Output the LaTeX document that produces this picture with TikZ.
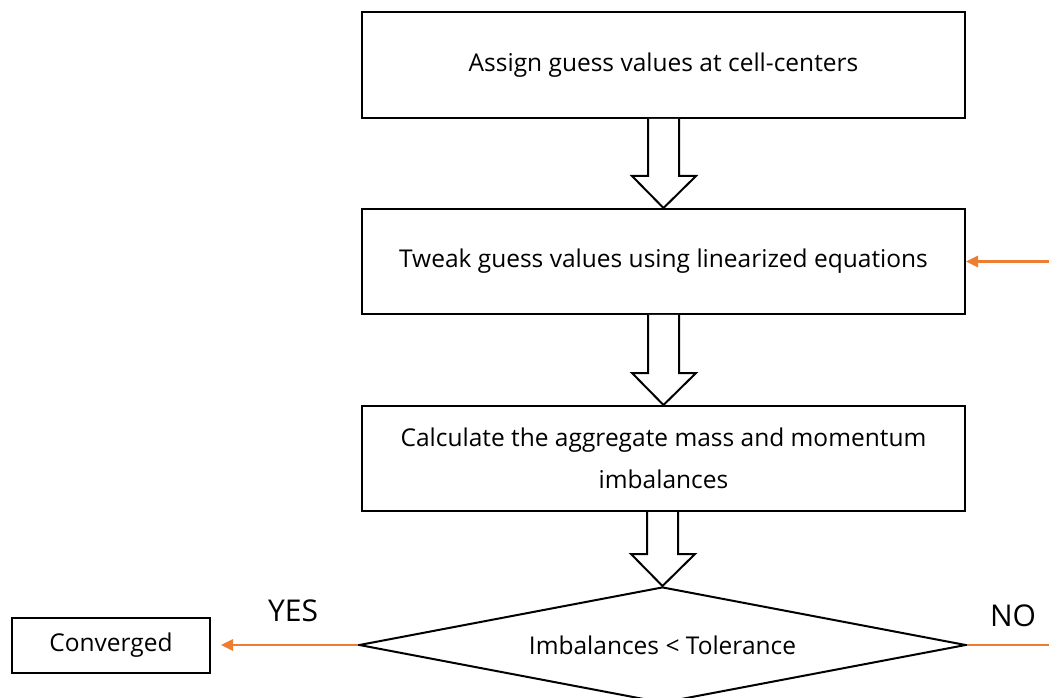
\documentclass[tikz,border=0pt]{standalone}
\usepackage{fontspec}
\setmainfont{Open Sans}
\usepackage{tikz}
\usetikzlibrary{arrows.meta,positioning,calc,shapes.geometric}
\definecolor{ink}{RGB}{0,0,0}
\definecolor{flow}{RGB}{237,125,49}

\tikzset{
  stepbox/.style={draw=ink,line width=2pt,minimum width=603pt,minimum height=106pt,inner sep=0pt,align=center},
  hollow/.style={draw=ink,line width=2pt,fill=white,line join=miter},
  flowline/.style={draw=flow,line width=2.6pt}
}

\begin{document}
\begin{tikzpicture}[x=1pt,y=1pt,font=\fontsize{24.5}{42}\selectfont,>={Triangle[length=12pt,width=11pt]}]
 \useasboundingbox (0,0) rectangle (1049,697);
 % main column
 \node[stepbox] (assign) at (663.5,632) {Assign guess values at cell-centers};
 \node[stepbox,minimum height=105pt] (tweak) at (663.5,435.5) {Tweak guess values using linearized equations};
 \node[stepbox,minimum height=105pt] (calc) at (663.5,238.5) {Calculate the aggregate mass and momentum\\imbalances};
 \node[diamond,aspect=5.2,draw=ink,line width=2pt,minimum width=607pt,minimum height=116pt,inner sep=0pt] (check) at (662.5,52) {Imbalances < Tolerance};
 \node[draw=ink,line width=2pt,minimum width=198pt,minimum height=55pt,inner sep=0pt] (done) at (111,52) {Converged};
 % hollow block arrows
 \foreach \a/\b in {assign/tweak,tweak/calc,calc/check}
  \draw[hollow] ($(\a.south -| \b.north)+(-15.5,0)$) -- ($(\b.north)+(-15.5,32)$) -- ++(-16,0) -- (\b.north)
   -- ($(\b.north)+(32.5,32)$) -- ++(-17,0) -- ($(\a.south -| \b.north)+(15.5,0)$);
 % loop back and exits
 \coordinate (back) at (1049,435.5);
 \coordinate (noend) at (1049,52);
 \draw[flowline,->] (back) -- (tweak.east);
 \draw[flowline,->,shorten >=10pt] (check.west) -- (done.east);
 \draw[flowline] (check.east) -- (noend);
 \node[font=\fontsize{30}{34}\selectfont] (yes) at (293,86) {YES};
 \node[font=\fontsize{30}{34}\selectfont] (no) at (1013,81) {NO};
\end{tikzpicture}
\end{document}
